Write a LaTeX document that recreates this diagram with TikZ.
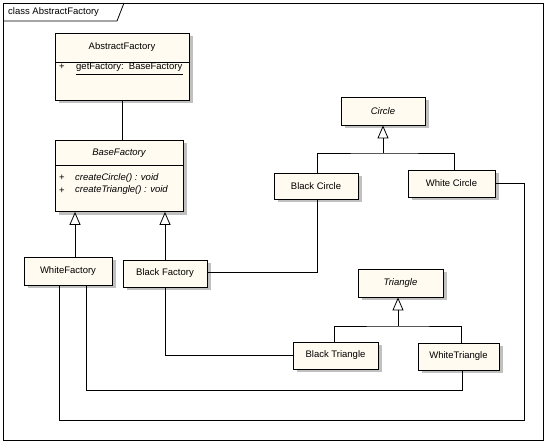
\documentclass[tikz,border=0pt]{standalone}
\usepackage{fontspec}
\setmainfont{Liberation Sans}
\usetikzlibrary{arrows.meta,shadows}
\definecolor{clsfill}{HTML}{FFFBF0}
\definecolor{shadowgray}{HTML}{C0C0C0}
\tikzset{
  x=1pt, y=-1pt,
  cls/.style={draw=black, fill=clsfill, line width=0.8pt, inner sep=0pt,
    font=\fontsize{9.5}{11}\selectfont,
    drop shadow={shadow xshift=3.5pt, shadow yshift=-3.5pt, fill=shadowgray, opacity=1}},
  lbl/.style={font=\fontsize{9.5}{11}\selectfont, inner sep=0pt},
  ilbl/.style={lbl, font=\fontsize{9.5}{11}\selectfont\itshape},
  conn/.style={draw, line width=0.8pt},
  gen/.style={conn, -{Triangle[open, length=13pt, width=11pt, fill=white]}},
}
\begin{document}
\begin{tikzpicture}
\useasboundingbox (0,0) rectangle (546,443);
% frame
\draw[line width=0.8pt] (3,3) rectangle (543,440);
\draw[line width=0.8pt] (3,21) -- (117,21) -- (124,3);
\node[lbl, anchor=west] (title) at (8,12) {class AbstractFactory};

% AbstractFactory
\node[cls, minimum width=134pt, minimum height=67pt] (AF) at (122,66.5) {};
\node[lbl] (AFt) at (122,47) {AbstractFactory};
\draw[line width=0.8pt] (55,62) -- (189,62);
\node[lbl] (AFp) at (62,67) {+};
\node[lbl, anchor=west] (AFa) at (76,67) {getFactory:\ \ BaseFactory};
\draw[line width=0.7pt] ([yshift=-3pt]AFa.south west) -- ([yshift=-3pt]AFa.south east);

% BaseFactory
\node[cls, minimum width=128pt, minimum height=71.5pt] (BF) at (119,175.75) {};
\node[ilbl] (BFt) at (119,153) {BaseFactory};
\draw[line width=0.8pt] (55,165) -- (183,165);
\node[lbl] (BFp1) at (62,178) {+};
\node[ilbl, anchor=west] (BFo1) at (75,178) {createCircle() : void};
\node[lbl] (BFp2) at (62,190.5) {+};
\node[ilbl, anchor=west] (BFo2) at (75,190.5) {createTriangle() : void};

% concrete factories
\node[cls, minimum width=88pt, minimum height=28pt] (WF) at (68,271) {WhiteFactory};
\node[cls, minimum width=84pt, minimum height=27pt] (BlF) at (165,273.5) {Black Factory};

% Circle hierarchy
\node[cls, minimum width=84pt, minimum height=28pt] (CI) at (383,111) {\itshape Circle};
\node[cls, minimum width=84pt, minimum height=26pt] (BC) at (316,186) {Black Circle};
\node[cls, minimum width=87pt, minimum height=27pt] (WC) at (451.5,183.5) {White Circle};

% Triangle hierarchy
\node[cls, minimum width=85pt, minimum height=28pt] (TR) at (400.5,283) {\itshape Triangle};
\node[cls, minimum width=85pt, minimum height=27pt] (BT) at (335.5,355.5) {Black Triangle};
\node[cls, minimum width=81pt, minimum height=27pt] (WT) at (458.5,356.5) {WhiteTriangle};

% AbstractFactory -- BaseFactory
\draw[conn] (AF.south) -- (AF.south |- BF.north);

% generalizations to BaseFactory
\draw[gen] ([xshift=7pt]WF.north) -- ([xshift=7pt]WF.north |- BF.south);
\draw[gen] (BlF.north) -- (BlF.north |- BF.south);

% generalizations to Circle
\coordinate (cj) at (383,153);
\draw[conn] ([xshift=1pt]BC.north) |- (cj) -| ([xshift=2.5pt]WC.north);
\draw[gen] (cj) -- (CI.south);

% generalizations to Triangle
\coordinate (tj) at (398,326);
\draw[conn] ([xshift=-1.5pt]BT.north) |- (tj) -| ([xshift=2.5pt]WT.north);
\draw[gen] (tj) -- (tj |- TR.south);

% associations
\draw[conn] ([yshift=1.5pt]BlF.east) -| ([xshift=1pt]BC.south);
\draw[conn] (BlF.south) |- (BT.west);
\coordinate (r1) at (0,390);
\draw[conn] ([xshift=18pt]WF.south) |- ([xshift=3.5pt]WT.south |- r1) -- ([xshift=3.5pt]WT.south);
\coordinate (r2) at (524,420);
\draw[conn] ([xshift=-9pt]WF.south) |- (r2) |- (WC.east);
\end{tikzpicture}
\end{document}
